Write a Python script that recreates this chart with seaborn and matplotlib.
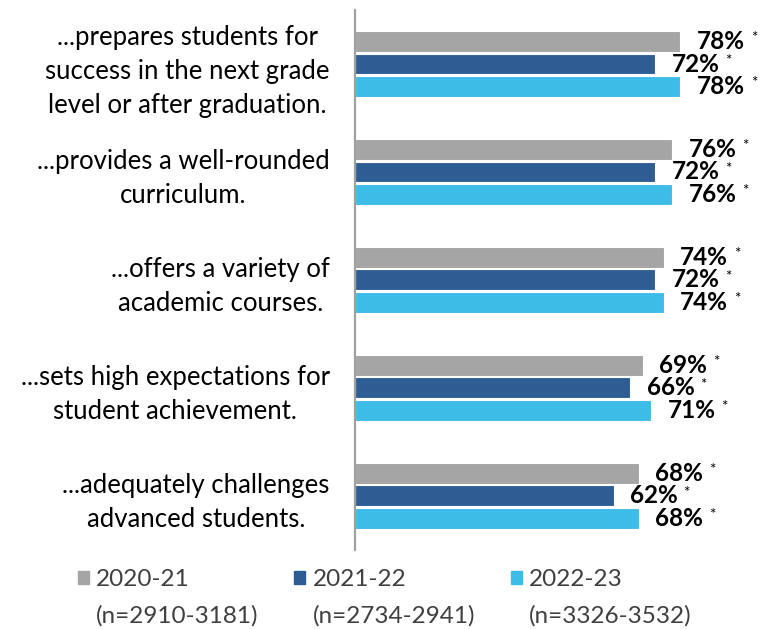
import numpy as np
import pandas as pd
import matplotlib.pyplot as plt
import seaborn as sns

statements = [
    "...prepares students for\nsuccess in the next grade\nlevel or after graduation.",
    "...provides a well-rounded\ncurriculum.",
    "...offers a variety of\nacademic courses.",
    "...sets high expectations for\nstudent achievement.",
    "...adequately challenges\nadvanced students.",
]
years = ["2020-21", "2021-22", "2022-23"]
n_ranges = ["(n=2910-3181)", "(n=2734-2941)", "(n=3326-3532)"]
pct_2021 = [78, 76, 74, 69, 68]
pct_2122 = [72, 72, 72, 66, 62]
pct_2223 = [78, 76, 74, 71, 68]
colors = ["#A5A5A5", "#2E5D93", "#3EBCE8"]

df = pd.DataFrame({
    "statement": statements * 3,
    "year": [y for y in years for _ in statements],
    "pct": pct_2021 + pct_2122 + pct_2223,
})

sns.set_style("white")
plt.rcParams["font.family"] = ["Lato", "DejaVu Sans"]

fig = plt.figure(figsize=(7.73, 6.29), dpi=100)
ax = fig.add_axes([0.459, 0.126, 0.54, 0.858])

sns.barplot(data=df, y="statement", x="pct", hue="year", palette=colors,
            saturation=1, orient="h", width=0.625, gap=0.07,
            edgecolor="white", linewidth=0.8, ax=ax, legend=False)

ax.set_xlim(0, 100)
ax.set_ylim(4.5, -0.5)
ax.set_xlabel("")
ax.set_ylabel("")
ax.set_xticks([])
for s in ["top", "right", "bottom"]:
    ax.spines[s].set_visible(False)
ax.spines["left"].set_color("#A0A0A0")
ax.spines["left"].set_linewidth(1.6)
ax.tick_params(axis="y", length=0, pad=18)
for lab in ax.get_yticklabels():
    lab.set_fontsize(18.5)
    lab.set_linespacing(1.45)
    lab.set_multialignment("center")
    lab.set_color("black")

# value labels with small asterisks
for cont in ax.containers:
    for bar in cont:
        v = bar.get_width()
        yc = bar.get_y() + bar.get_height() / 2
        t = ax.annotate(f"{v:.0f}%", xy=(v, yc), xytext=(12, 0),
                        textcoords="offset points", va="center", ha="left",
                        fontsize=17.5, fontweight="bold", color="black")
        ax.annotate("*", xy=(1, 1), xycoords=t, xytext=(4, -1),
                    textcoords="offset points", ha="left", va="top",
                    fontsize=11, color="black")

handles = [plt.Rectangle((0, 0), 1, 1, color=c) for c in colors]
leg = fig.legend(handles, years, loc="lower left", bbox_to_anchor=(0.085, 0.042),
                 ncol=3, frameon=False, fontsize=17.5, handlelength=0.45,
                 handleheight=0.45, handletextpad=0.3, columnspacing=4.3,
                 borderpad=0, labelcolor="#404040")

fig.canvas.draw()
inv = fig.transFigure.inverted()
for t, n in zip(leg.get_texts(), n_ranges):
    bb = t.get_window_extent()
    x0, y0 = inv.transform((bb.x0, bb.y0))
    fig.text(x0, y0 - 0.024, n, ha="left", va="top", fontsize=17.5, color="#404040")

fig.savefig("out.png", dpi=100)
